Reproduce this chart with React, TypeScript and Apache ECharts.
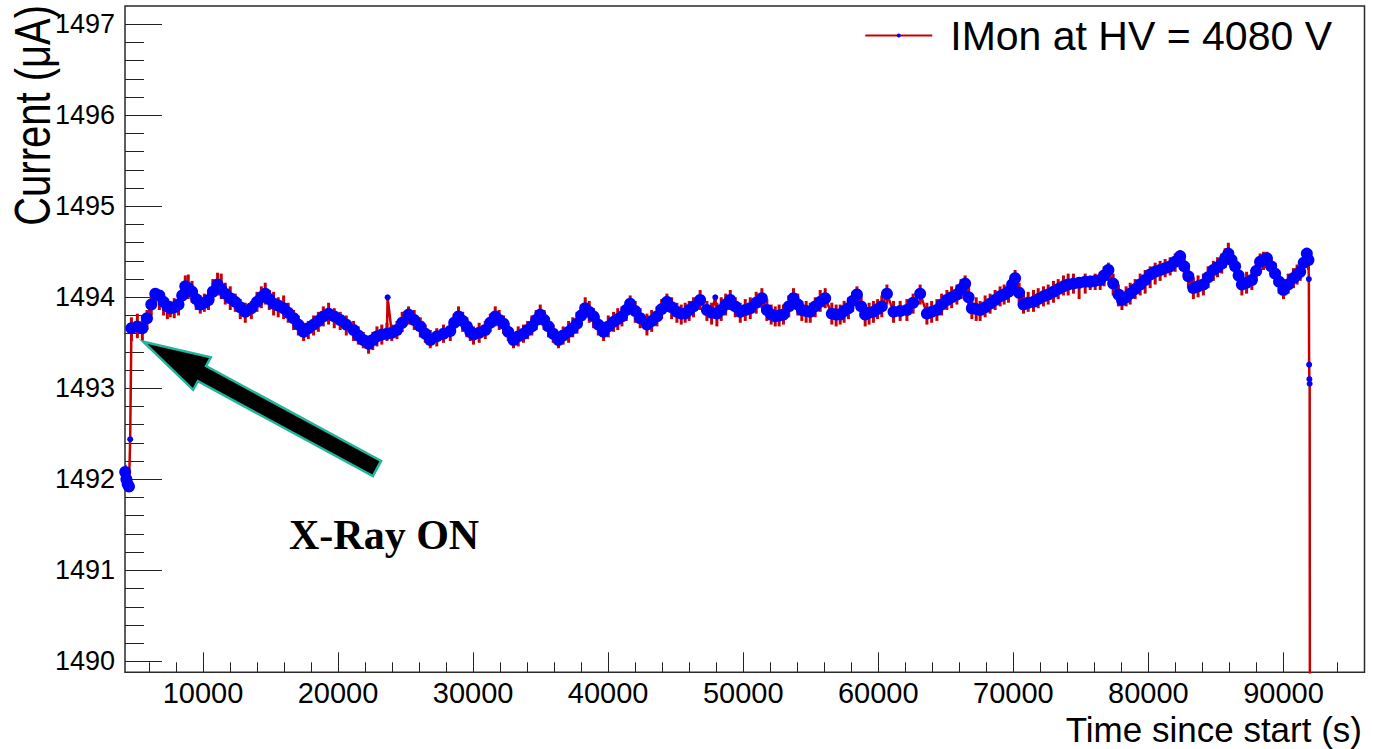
import React, { useEffect, useRef } from "react";
import * as echarts from "echarts";

// ---- data ----
const times = [
  4240, 4330, 4420, 4520,
  4700, 5140, 5510, 5855, 6170, 6470, 6770, 7080, 7360, 7580,
  7870, 8190, 8460, 8690, 8910, 9190, 9500, 9800, 10100, 10410,
  10730, 11080, 11350, 11650, 12020, 12390, 12760, 13130, 13580, 14000,
  14320, 14610, 14910, 15230, 15570, 15970, 16310, 16710, 17060, 17450,
  17800, 18190, 18540, 18910, 19300, 19720, 20160, 20610, 21150, 21500,
  21870, 22260, 22570, 22880, 23240, 23620, 23980, 24360, 24750, 25220,
  25640, 26090, 26460, 26830, 27310, 27810, 28310, 28600, 28920, 29230,
  29540, 29790, 30030, 30450, 30900, 31270, 31640, 31930, 32250, 32600,
  32990, 33340, 33730, 34040, 34350, 34670, 34970, 35260, 35580, 35930,
  36320, 36670, 37070, 37380, 37690, 38010, 38300, 38600, 38920, 39270,
  39660, 40010, 40400, 40710, 41020, 41340, 41630, 42000, 42370, 42870,
  43220, 43610, 43960, 44350, 44700, 45090, 45410, 45700, 46000, 46320,
  46810, 47310, 47660, 48050, 48370, 48700, 49040, 49410, 49780, 50150,
  50520, 50960, 51380, 51750, 52070, 52370, 52660, 52980, 53370, 53720,
  54040, 54340, 54660, 54960, 55330, 55700, 56070, 56560, 56880, 57180,
  57470, 57790, 58100, 58420, 58730, 59030, 59320, 59640, 59950, 60260,
  60640, 61130, 61620, 62120, 62580, 63100, 63600, 63950, 64340, 64690,
  65080, 65430, 65820, 66130, 66430, 66690, 66930, 67250, 67540, 67910,
  68280, 68650, 69020, 69320, 69640, 69910, 70130, 70430, 70750, 71100,
  71490, 71840, 72230, 72580, 72970, 73320, 73710, 74060, 74450, 74870,
  75320, 75690, 76060, 76430, 76720, 77040, 77390, 77780, 78040, 78350,
  78650, 79020, 79390, 79760, 80130, 80500, 80870, 81240, 81610, 81980,
  82350, 82650, 82960, 83330, 83680, 84070, 84420, 84810, 85120, 85430,
  85680, 85920, 86160, 86420, 86680, 86920, 87270, 87660, 87980, 88270,
  88520, 88770, 89090, 89380, 89680, 90000, 90350, 90740, 91010, 91240,
  91500, 91730, 91850,
];

const current = [
  1492.08, 1492.0, 1491.95, 1491.92,
  1493.66, 1493.68, 1493.66, 1493.77, 1493.92, 1494.04, 1494.02, 1493.95, 1493.9, 1493.88,
  1493.89, 1493.92, 1494.02, 1494.12, 1494.1, 1494.06, 1493.98, 1493.92, 1493.94, 1493.97,
  1494.06, 1494.14, 1494.09, 1494.04, 1493.99, 1493.95, 1493.89, 1493.84, 1493.88, 1493.95,
  1494.0, 1494.04, 1493.98, 1493.93, 1493.91, 1493.88, 1493.83, 1493.77, 1493.7, 1493.62,
  1493.66, 1493.7, 1493.74, 1493.79, 1493.82, 1493.79, 1493.75, 1493.7, 1493.64, 1493.58,
  1493.53, 1493.49, 1493.53, 1493.57, 1493.59, 1493.6, 1493.61, 1493.64, 1493.72, 1493.81,
  1493.75, 1493.68, 1493.6, 1493.53, 1493.57, 1493.6, 1493.63, 1493.72, 1493.79, 1493.74,
  1493.68, 1493.62, 1493.59, 1493.61, 1493.64, 1493.72, 1493.79, 1493.75, 1493.71, 1493.62,
  1493.53, 1493.57, 1493.6, 1493.64, 1493.68, 1493.75, 1493.81, 1493.75, 1493.68, 1493.6,
  1493.53, 1493.58, 1493.62, 1493.66, 1493.71, 1493.8, 1493.88, 1493.84, 1493.79, 1493.7,
  1493.62, 1493.68, 1493.73, 1493.76, 1493.79, 1493.86, 1493.93, 1493.85, 1493.77, 1493.7,
  1493.74, 1493.79, 1493.87, 1493.95, 1493.89, 1493.84, 1493.82, 1493.82, 1493.86, 1493.9,
  1493.97, 1493.86, 1493.83, 1493.82, 1493.86, 1493.92, 1493.97, 1493.9, 1493.84, 1493.86,
  1493.88, 1493.94, 1493.99, 1493.86, 1493.81, 1493.79, 1493.8, 1493.81, 1493.9, 1493.99,
  1493.92, 1493.86, 1493.85, 1493.84, 1493.9, 1493.95, 1493.99, 1493.82, 1493.81, 1493.81,
  1493.85, 1493.88, 1493.96, 1494.03, 1493.9, 1493.81, 1493.83, 1493.84, 1493.87, 1493.9,
  1494.04, 1493.84, 1493.85, 1493.86, 1493.94, 1494.04, 1493.82, 1493.84, 1493.86, 1493.92,
  1493.97, 1494.0, 1494.03, 1494.09, 1494.15, 1494.0, 1493.88, 1493.87, 1493.86, 1493.89,
  1493.93, 1493.97, 1494.01, 1494.03, 1494.06, 1494.14, 1494.21, 1494.05, 1493.92, 1493.94,
  1493.95, 1493.98, 1494.01, 1494.03, 1494.06, 1494.09, 1494.12, 1494.14, 1494.15, 1494.16,
  1494.17, 1494.17, 1494.18, 1494.19, 1494.24, 1494.3, 1494.15, 1494.03, 1493.97, 1494.0,
  1494.04, 1494.09, 1494.14, 1494.19, 1494.25, 1494.28, 1494.3, 1494.32, 1494.34, 1494.39,
  1494.45, 1494.34, 1494.23, 1494.1, 1494.12, 1494.14, 1494.22, 1494.3, 1494.33, 1494.37,
  1494.43, 1494.48, 1494.41, 1494.34, 1494.24, 1494.14, 1494.16, 1494.19, 1494.29, 1494.39,
  1494.41, 1494.43, 1494.34, 1494.26, 1494.17, 1494.08, 1494.14, 1494.21, 1494.25, 1494.28,
  1494.38, 1494.48, 1494.41,
];

// red line excursions around each reading (upper / lower ends of the spikes)
const redHigh = [
  1492.16, 1492.12, 1492.06, 1492.02,
  1493.78, 1493.82, 1493.8, 1493.86, 1494.02, 1494.1, 1494.08, 1494.04, 1493.98, 1493.96,
  1493.99, 1494.03, 1494.16, 1494.24, 1494.25, 1494.18, 1494.08, 1494.02, 1494.04, 1494.08,
  1494.2, 1494.27, 1494.26, 1494.16, 1494.12, 1494.04, 1493.98, 1493.94, 1493.96, 1494.06,
  1494.12, 1494.16, 1494.08, 1494.06, 1494.0, 1494.02, 1493.94, 1493.86, 1493.8, 1493.72,
  1493.74, 1493.8, 1493.84, 1493.9, 1493.94, 1493.88, 1493.84, 1493.8, 1493.74, 1493.68,
  1493.62, 1493.58, 1493.62, 1493.68, 1493.7, 1493.72, 1493.7, 1493.74, 1493.84, 1493.9,
  1493.86, 1493.78, 1493.7, 1493.64, 1493.66, 1493.7, 1493.72, 1493.82, 1493.9, 1493.84,
  1493.78, 1493.72, 1493.68, 1493.72, 1493.74, 1493.82, 1493.9, 1493.86, 1493.8, 1493.72,
  1493.62, 1493.68, 1493.7, 1493.74, 1493.8, 1493.86, 1493.92, 1493.86, 1493.78, 1493.7,
  1493.62, 1493.68, 1493.74, 1493.78, 1493.84, 1493.92, 1494.0, 1493.96, 1493.88, 1493.8,
  1493.72, 1493.8, 1493.84, 1493.88, 1493.9, 1493.96, 1494.02, 1493.96, 1493.88, 1493.82,
  1493.86, 1493.9, 1493.98, 1494.04, 1494.0, 1493.94, 1493.92, 1493.94, 1493.96, 1494.0,
  1494.08, 1493.96, 1493.94, 1493.94, 1494.0, 1494.04, 1494.08, 1494.0, 1493.94, 1493.98,
  1494.0, 1494.06, 1494.1, 1493.98, 1493.92, 1493.9, 1493.92, 1493.92, 1494.02, 1494.1,
  1494.04, 1493.96, 1493.96, 1493.94, 1494.0, 1494.08, 1494.1, 1493.94, 1493.92, 1493.92,
  1493.96, 1494.0, 1494.06, 1494.12, 1494.02, 1493.92, 1493.94, 1493.96, 1493.98, 1494.02,
  1494.14, 1493.96, 1493.96, 1493.98, 1494.04, 1494.14, 1493.94, 1493.96, 1493.98, 1494.04,
  1494.08, 1494.12, 1494.14, 1494.2, 1494.24, 1494.12, 1494.0, 1494.0, 1493.96, 1494.02,
  1494.04, 1494.08, 1494.12, 1494.14, 1494.16, 1494.24, 1494.3, 1494.16, 1494.04, 1494.06,
  1494.08, 1494.1, 1494.12, 1494.14, 1494.18, 1494.2, 1494.24, 1494.26, 1494.26, 1494.22,
  1494.26, 1494.24, 1494.26, 1494.28, 1494.34, 1494.38, 1494.26, 1494.14, 1494.08, 1494.12,
  1494.16, 1494.2, 1494.26, 1494.3, 1494.34, 1494.38, 1494.4, 1494.42, 1494.44, 1494.48,
  1494.52, 1494.46, 1494.34, 1494.22, 1494.24, 1494.26, 1494.34, 1494.4, 1494.44, 1494.48,
  1494.54, 1494.6, 1494.52, 1494.44, 1494.36, 1494.26, 1494.28, 1494.3, 1494.4, 1494.48,
  1494.5, 1494.5, 1494.44, 1494.38, 1494.28, 1494.2, 1494.26, 1494.32, 1494.36, 1494.38,
  1494.46, 1494.52, 1494.48,
];

const redLow = [
  1491.96, 1491.92, 1491.88, 1491.88,
  1493.52, 1493.55, 1493.52, 1493.64, 1493.8, 1493.92, 1493.86, 1493.8, 1493.76, 1493.78,
  1493.77, 1493.8, 1493.92, 1494.0, 1493.98, 1493.94, 1493.86, 1493.82, 1493.84, 1493.86,
  1493.96, 1494.02, 1493.98, 1493.92, 1493.86, 1493.84, 1493.76, 1493.72, 1493.76, 1493.84,
  1493.88, 1493.92, 1493.86, 1493.8, 1493.78, 1493.76, 1493.72, 1493.64, 1493.58, 1493.52,
  1493.54, 1493.58, 1493.62, 1493.68, 1493.7, 1493.66, 1493.64, 1493.58, 1493.52, 1493.48,
  1493.44, 1493.38, 1493.42, 1493.46, 1493.48, 1493.52, 1493.52, 1493.54, 1493.62, 1493.7,
  1493.64, 1493.56, 1493.5, 1493.44, 1493.46, 1493.5, 1493.52, 1493.62, 1493.7, 1493.62,
  1493.56, 1493.52, 1493.48, 1493.5, 1493.54, 1493.62, 1493.68, 1493.64, 1493.6, 1493.52,
  1493.44, 1493.46, 1493.5, 1493.54, 1493.58, 1493.64, 1493.7, 1493.64, 1493.56, 1493.5,
  1493.44, 1493.48, 1493.5, 1493.56, 1493.6, 1493.7, 1493.78, 1493.72, 1493.66, 1493.58,
  1493.52, 1493.56, 1493.62, 1493.64, 1493.68, 1493.74, 1493.82, 1493.72, 1493.66, 1493.58,
  1493.62, 1493.68, 1493.76, 1493.84, 1493.76, 1493.72, 1493.7, 1493.72, 1493.74, 1493.78,
  1493.86, 1493.74, 1493.7, 1493.68, 1493.74, 1493.8, 1493.86, 1493.78, 1493.72, 1493.74,
  1493.76, 1493.82, 1493.88, 1493.74, 1493.7, 1493.68, 1493.68, 1493.7, 1493.78, 1493.88,
  1493.8, 1493.74, 1493.72, 1493.72, 1493.78, 1493.84, 1493.88, 1493.7, 1493.68, 1493.7,
  1493.72, 1493.76, 1493.84, 1493.92, 1493.78, 1493.68, 1493.7, 1493.72, 1493.76, 1493.78,
  1493.92, 1493.72, 1493.74, 1493.74, 1493.82, 1493.92, 1493.7, 1493.72, 1493.74, 1493.8,
  1493.86, 1493.88, 1493.92, 1493.98, 1494.04, 1493.88, 1493.76, 1493.74, 1493.74, 1493.78,
  1493.82, 1493.86, 1493.9, 1493.92, 1493.94, 1494.02, 1494.1, 1493.94, 1493.82, 1493.84,
  1493.84, 1493.88, 1493.9, 1493.92, 1493.94, 1493.98, 1494.02, 1494.02, 1494.04, 1493.98,
  1494.04, 1494.08, 1494.08, 1494.08, 1494.12, 1494.18, 1494.02, 1493.9, 1493.86, 1493.9,
  1493.92, 1493.98, 1494.02, 1494.04, 1494.1, 1494.14, 1494.18, 1494.22, 1494.24, 1494.28,
  1494.34, 1494.22, 1494.1, 1493.98, 1494.0, 1494.02, 1494.1, 1494.18, 1494.22, 1494.26,
  1494.32, 1494.38, 1494.3, 1494.22, 1494.12, 1494.02, 1494.04, 1494.08, 1494.18, 1494.28,
  1494.3, 1494.32, 1494.22, 1494.14, 1494.04, 1493.98, 1494.04, 1494.1, 1494.14, 1494.18,
  1494.26, 1494.38, 1494.3,
];

// isolated readings (switch-on, single spikes, switch-off)
const outlierTimes = [4610, 23670, 47930, 91880, 91900, 91920, 91940, 91960];
const outlierValues = [1492.44, 1494.0, 1494.0, 1494.2, 1493.26, 1493.1, 1493.05, 1488.5];

const xMajorTicks = [10000, 20000, 30000, 40000, 50000, 60000, 70000, 80000, 90000];
const xMinorTicks = [
  6000, 8000, 12000, 14000, 16000, 18000, 22000, 24000, 26000, 28000,
  32000, 34000, 36000, 38000, 42000, 44000, 46000, 48000, 52000, 54000,
  56000, 58000, 62000, 64000, 66000, 68000, 72000, 74000, 76000, 78000,
  82000, 84000, 86000, 88000, 92000, 94000,
];
const yMajorTicks = [1490, 1491, 1492, 1493, 1494, 1495, 1496, 1497];
const yMinorTicks = [
  1490.2, 1490.4, 1490.6, 1490.8, 1491.2, 1491.4, 1491.6, 1491.8,
  1492.2, 1492.4, 1492.6, 1492.8, 1493.2, 1493.4, 1493.6, 1493.8,
  1494.2, 1494.4, 1494.6, 1494.8, 1495.2, 1495.4, 1495.6, 1495.8,
  1496.2, 1496.4, 1496.6, 1496.8,
];

const X_MIN = 4226;
const X_MAX = 96000;
const Y_MIN = 1489.88;
const Y_MAX = 1497.2;

const SERIES_NAME = "IMon at HV = 4080 V";
const X_TITLE = "Time since start (s)";
const Y_TITLE = "Current (μA)";
const ANNOTATION = "X-Ray ON";
const FONT = '"Liberation Sans", Arial, Helvetica, sans-serif';
const RED = "#c80000";
const BLUE = "#0000ff";
const TICK = { color: "#222", width: 1 };

export default function App() {
  const ref = useRef<HTMLDivElement>(null);

  useEffect(() => {
    if (!ref.current) return;
    const chart = echarts.init(ref.current, null, { renderer: "svg" });

    const outlierSet = new Set(outlierTimes);
    const bandPoints = times.map((t, i) => [t, current[i]]);
    const outlierPoints = outlierTimes.map((t, i) => [t, outlierValues[i]]);
    const linePoints = [...bandPoints, ...outlierPoints].sort((a, b) => a[0] - b[0]);
    const spikes = times.map((t, i) => [t, redLow[i], redHigh[i]]);

    const fmt = (v: number) => String(v);

    const option: any = {
      animation: false,
      backgroundColor: "#ffffff",
      grid: {
        left: 125,
        top: 6,
        right: 8.5,
        bottom: 76.7,
        containLabel: false,
        outerBoundsMode: "none",
        show: true,
        borderColor: "#2a2a2a",
        borderWidth: 1.5,
        backgroundColor: "transparent",
      },
      xAxis: [
        {
          type: "value",
          position: "bottom",
          min: X_MIN,
          max: X_MAX,
          axisLine: { show: false },
          splitLine: { show: false },
          axisTick: { show: true, inside: true, length: 20, customValues: xMajorTicks, lineStyle: TICK },
          axisLabel: {
            customValues: xMajorTicks,
            margin: 8,
            fontSize: 29,
            lineHeight: 26,
            fontFamily: FONT,
            color: "#000",
            formatter: fmt,
          },
        },
        {
          type: "value",
          position: "bottom",
          min: X_MIN,
          max: X_MAX,
          axisLine: { show: false },
          splitLine: { show: false },
          axisLabel: { show: false },
          axisTick: { show: true, inside: true, length: 10, customValues: xMinorTicks, lineStyle: TICK },
        },
      ],
      yAxis: [
        {
          type: "value",
          position: "left",
          min: Y_MIN,
          max: Y_MAX,
          axisLine: { show: false },
          splitLine: { show: false },
          axisTick: { show: true, inside: true, length: 37, customValues: yMajorTicks, lineStyle: TICK },
          axisLabel: {
            customValues: yMajorTicks,
            margin: 10,
            fontSize: 27,
            fontFamily: FONT,
            color: "#000",
            formatter: fmt,
          },
        },
        {
          type: "value",
          position: "left",
          min: Y_MIN,
          max: Y_MAX,
          axisLine: { show: false },
          splitLine: { show: false },
          axisLabel: { show: false },
          axisTick: { show: true, inside: true, length: 19, customValues: yMinorTicks, lineStyle: TICK },
        },
      ],
      legend: {
        data: [SERIES_NAME],
        right: 36,
        top: 10,
        itemWidth: 67,
        itemHeight: 5,
        selectedMode: false,
        textStyle: { fontSize: 41, fontFamily: FONT, color: "#000", padding: [0, 0, 0, 13] },
      },
      series: [
        {
          type: "custom",
          name: "spikes",
          xAxisIndex: 0,
          yAxisIndex: 0,
          silent: true,
          z: 1,
          clip: true,
          encode: { x: 0, y: [1, 2] },
          data: spikes,
          renderItem: (params: any, api: any) => {
            const t = api.value(0);
            const p1 = api.coord([t, api.value(1)]);
            const p2 = api.coord([t, api.value(2)]);
            return {
              type: "line",
              shape: { x1: p1[0], y1: p1[1], x2: p2[0], y2: p2[1] },
              style: { stroke: RED, lineWidth: 3 },
            };
          },
        },
        {
          type: "line",
          name: SERIES_NAME,
          xAxisIndex: 0,
          yAxisIndex: 0,
          z: 3,
          data: linePoints,
          showAllSymbol: true,
          symbol: "circle",
          symbolSize: (val: number[]) => (outlierSet.has(val[0]) ? 6 : 12),
          lineStyle: { color: RED, width: 2.5 },
          itemStyle: { color: BLUE },
          emphasis: { disabled: true },
          clip: true,
        },
      ],
      graphic: [
        {
          type: "text",
          z: 100,
          x: 58,
          y: 5,
          rotation: Math.PI / 2,
          scaleY: 1.25,
          style: {
            text: Y_TITLE,
            fontSize: 40,
            fontFamily: FONT,
            fill: "#000",
            align: "right",
            verticalAlign: "bottom",
          },
        },
        {
          type: "text",
          z: 100,
          x: 1362,
          y: 712,
          style: {
            text: X_TITLE,
            fontSize: 35,
            lineHeight: 34,
            fontFamily: FONT,
            fill: "#000",
            align: "right",
            verticalAlign: "top",
          },
        },
        {
          type: "polygon",
          z: 100,
          shape: {
            points: [
              [143.3, 341.7],
              [210.8, 357.4],
              [206.1, 366.0],
              [381.1, 460.9],
              [372.9, 476.1],
              [197.9, 381.2],
              [193.2, 389.8],
            ],
          },
          style: { fill: "#000", stroke: "#22b59a", lineWidth: 2.5 },
        },
        {
          type: "text",
          z: 100,
          x: 289,
          y: 514,
          style: {
            text: ANNOTATION,
            fontSize: 42,
            fontWeight: "bold",
            fontFamily: '"Liberation Serif", "Times New Roman", serif',
            fill: "#000",
            verticalAlign: "top",
          },
        },
      ],
    };

    chart.setOption(option);
    return () => chart.dispose();
  }, []);

  return (
    <div
      ref={ref}
      style={{ position: "fixed", left: 0, top: 0, width: 1373, height: 749, background: "#fff" }}
    />
  );
}
